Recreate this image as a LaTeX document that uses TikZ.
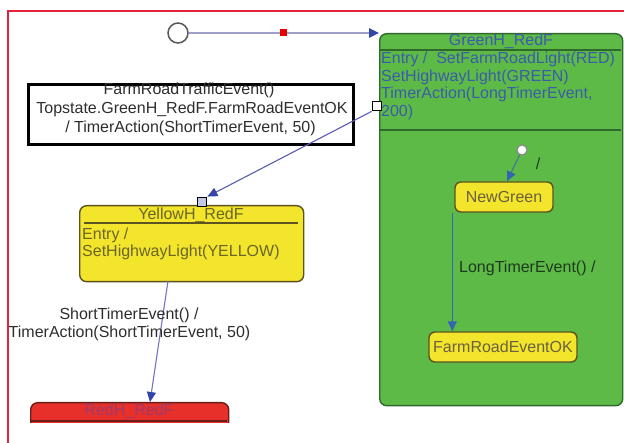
\documentclass[tikz,border=0pt]{standalone}
\usepackage{fontspec}
\setmainfont{Liberation Sans}
\usetikzlibrary{arrows.meta}
\definecolor{frame}{HTML}{E2223E}
\definecolor{greenfill}{HTML}{5DBA47}
\definecolor{greenline}{HTML}{2F6A2C}
\definecolor{yelfill}{HTML}{F3E42C}
\definecolor{yelline}{HTML}{5C5320}
\definecolor{redfill}{HTML}{E8302A}
\definecolor{redline}{HTML}{6A1E1A}
\definecolor{bluetext}{HTML}{3B5CA8}
\definecolor{oltext}{HTML}{6B6628}
\definecolor{nodetext}{HTML}{6B6040}
\definecolor{redtitle}{HTML}{A03A6A}
\definecolor{initline}{HTML}{9EA0CC}
\definecolor{transline}{HTML}{5A5CB4}
\definecolor{tipblue}{HTML}{3444A8}
\definecolor{innerblue}{HTML}{3564B0}
\definecolor{labeltext}{HTML}{2E2E2E}
\definecolor{innerlabel}{HTML}{1E3A1E}
\begin{document}
\begin{tikzpicture}[x=1pt,y=-1pt,font=\fontsize{16}{18}\selectfont,
  lbl/.style={inner sep=0pt,anchor=base},
  lblw/.style={inner sep=0pt,anchor=base west},
  statebox/.style={draw=#1,line width=1.4pt,rounded corners=7pt,inner sep=0pt,anchor=north west},
  smallsq/.style={draw=black,fill=white,line width=1.8pt,minimum size=9pt,inner sep=0pt},
  tip/.style={-{Triangle[length=10pt,width=9pt,color=#1,fill=#1]}},
  trans/.style={draw=transline,line width=1.1pt,tip=tipblue},
  innertrans/.style={draw=innerblue,line width=1.2pt,tip=innerblue},
  substate/.style={draw=yelline,fill=yelfill,line width=1.4pt,rounded corners=6pt,inner sep=0pt,text=nodetext},
]
\useasboundingbox (0,0) rectangle (624,443);
\fill[white] (0,0) rectangle (624,443);

% page frame
\draw[frame,line width=2.4pt] (8,443) -- (8,11) -- (624,11);

% GreenH_RedF state
\node[statebox=greenline,fill=greenfill,minimum width=243pt,minimum height=372pt] (green) at (379,33) {};
\draw[greenline,line width=1.4pt] (380,50) -- (621,50);
\draw[greenline,line width=1.4pt] (380,130) -- (621,130);
\node[lbl,text=bluetext] (gtitle) at (501,46) {GreenH\_RedF};
\node[lblw,text=bluetext] (gent1) at (381,64) {Entry /\ \ SetFarmRoadLight(RED)};
\node[lblw,text=bluetext] (gent2) at (381,81.5) {SetHighwayLight(GREEN)};
\node[lblw,text=bluetext] (gent3) at (381,99) {TimerAction(LongTimerEvent,};
\node[lblw,text=bluetext] (gent4) at (381,116.5) {200)};

% initial pseudostate
\node[circle,draw=black!65,fill=white,line width=1.5pt,minimum size=20pt,inner sep=0pt] (init) at (178,33) {};
\draw[draw=initline,line width=2.4pt,tip=tipblue] (init.east) -- (green.north west)
  node[midway,fill=red!90!black,minimum size=7pt,inner sep=0pt] (mid) {};

% transition label box
\node[draw=black,line width=3pt,minimum width=325pt,minimum height=60pt,inner sep=0pt] (tbox) at (190.5,115) {};
\node[lbl,text=labeltext] (tb1) at (189,95) {FarmRoadTrafficEvent()};
\node[lbl,text=labeltext] (tb2) at (192,114) {Topstate.GreenH\_RedF.FarmRoadEventOK};
\node[lbl,text=labeltext] (tb3) at (190.5,132.5) {/ TimerAction(ShortTimerEvent, 50)};

% YellowH_RedF state
\node[statebox=yelline,fill=yelfill,minimum width=224pt,minimum height=76pt] (yellow) at (79,205) {};
\draw[yelline,line width=2.6pt] (84,223) -- (298,223);
\node[lbl,text=oltext] (ytitle) at (191,220) {YellowH\_RedF};
\node[lblw,text=oltext] (yent1) at (82,239.5) {Entry /};
\node[lblw,text=oltext] (yent2) at (82,256.5) {SetHighwayLight(YELLOW)};

% connection squares and transition
\node[smallsq] (sq1) at (377,106) {};
\node[smallsq,fill=tipblue!30] (sq2) at (202,202) {};
\draw[trans] (sq1.south west) -- (sq2.north east);

% RedH_RedF state (cut off)
\begin{scope}
\clip (0,395) rectangle (624,422.5);
\node[statebox=redline,fill=redfill,minimum width=198pt,minimum height=50pt] (red) at (30,402) {};
\end{scope}
\draw[redline,line width=1.6pt] (31,421) -- (227,421);
\node[lbl,text=redtitle] (rtitle) at (129,416) {RedH\_RedF};

% yellow -> red transition
\coordinate (yout) at (168,281);
\draw[trans,draw=transline!85!white] (yout) -- (red.north -| 150,0);
\node[lbl,text=labeltext] (l1) at (129,320) {ShortTimerEvent() /};
\node[lbl,text=labeltext] (l2) at (129.5,338) {TimerAction(ShortTimerEvent, 50)};

% inner states
\node[substate,minimum width=98pt,minimum height=30pt] (newgreen) at (504,197) {NewGreen};
\node[substate,minimum width=148pt,minimum height=30pt] (farmok) at (503,347) {FarmRoadEventOK};
\node[circle,draw=black!45,fill=white,line width=1.2pt,minimum size=10pt,inner sep=0pt] (init2) at (522,150) {};
\draw[innertrans,draw=innerblue!70!greenfill] (init2) -- ([xshift=3pt]newgreen.north);
\node[lbl,text=innerlabel] (slash) at (538,170) {/};
\draw[innertrans] ([xshift=-2pt]newgreen.south west) -- ([xshift=-2pt]newgreen.south west |- farmok.north);
\node[lblw,text=innerlabel] (l3) at (459,273) {LongTimerEvent() /};
\end{tikzpicture}
\end{document}
